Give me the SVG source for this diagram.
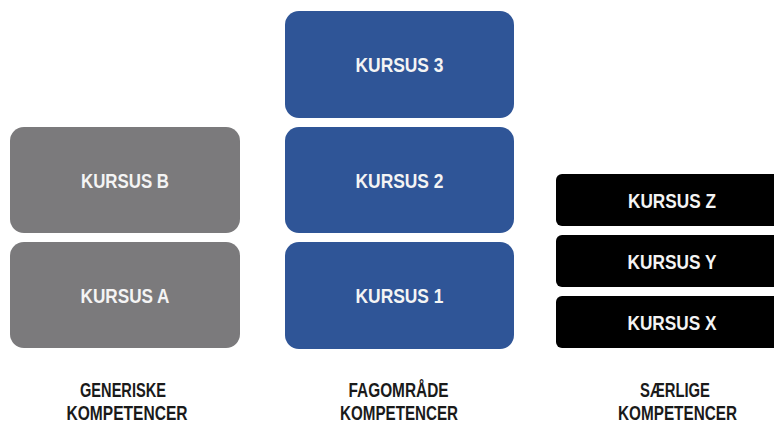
<svg xmlns="http://www.w3.org/2000/svg" width="774" height="425" viewBox="0 0 774 425">
<style>
.g{fill:#7b7a7c}
.b{fill:#2f5597}
.k{fill:#000}
.t{font-family:"Liberation Sans",Arial,sans-serif;font-weight:bold;font-size:21px;fill:#f4f4f4;text-anchor:middle}
.l{font-family:"Liberation Sans",Arial,sans-serif;font-weight:bold;font-size:20px;fill:#1a1a1a;text-anchor:middle}
</style>
<rect width="774" height="425" fill="#fff"/>
<g id="kursus-b"><rect class="g" x="10" y="127" width="230" height="106" rx="14"/><text class="t" x="125" y="188" textLength="88" lengthAdjust="spacingAndGlyphs">KURSUS B</text></g>
<g id="kursus-a"><rect class="g" x="10" y="242" width="230" height="106" rx="14"/><text class="t" x="125" y="303" textLength="89" lengthAdjust="spacingAndGlyphs">KURSUS A</text></g>
<g id="kursus-3"><rect class="b" x="285" y="11" width="229" height="107" rx="14"/><text class="t" x="399.5" y="72" textLength="88" lengthAdjust="spacingAndGlyphs">KURSUS 3</text></g>
<g id="kursus-2"><rect class="b" x="285" y="127" width="229" height="106" rx="14"/><text class="t" x="399.5" y="188" textLength="88" lengthAdjust="spacingAndGlyphs">KURSUS 2</text></g>
<g id="kursus-1"><rect class="b" x="285" y="242" width="229" height="107" rx="14"/><text class="t" x="399.5" y="303" textLength="88" lengthAdjust="spacingAndGlyphs">KURSUS 1</text></g>
<g id="kursus-z"><rect class="k" x="556" y="174" width="232" height="52" rx="6"/><text class="t" x="672" y="207.5" textLength="88" lengthAdjust="spacingAndGlyphs">KURSUS Z</text></g>
<g id="kursus-y"><rect class="k" x="556" y="235" width="232" height="52" rx="6"/><text class="t" x="672" y="268.5" textLength="89" lengthAdjust="spacingAndGlyphs">KURSUS Y</text></g>
<g id="kursus-x"><rect class="k" x="556" y="296" width="232" height="52" rx="6"/><text class="t" x="672" y="329.5" textLength="89" lengthAdjust="spacingAndGlyphs">KURSUS X</text></g>
<g id="label-generiske"><text class="l" x="123" y="397" textLength="86" lengthAdjust="spacingAndGlyphs">GENERISKE</text><text class="l" x="127" y="420" textLength="121" lengthAdjust="spacingAndGlyphs">KOMPETENCER</text></g>
<g id="label-fagomraade"><text class="l" x="398.5" y="397" textLength="100" lengthAdjust="spacingAndGlyphs">FAGOMRÅDE</text><text class="l" x="399" y="420" textLength="118" lengthAdjust="spacingAndGlyphs">KOMPETENCER</text></g>
<g id="label-saerlige"><text class="l" x="675" y="397" textLength="70" lengthAdjust="spacingAndGlyphs">SÆRLIGE</text><text class="l" x="677.5" y="420" textLength="119" lengthAdjust="spacingAndGlyphs">KOMPETENCER</text></g>
<g id="connectors"/>
</svg>
